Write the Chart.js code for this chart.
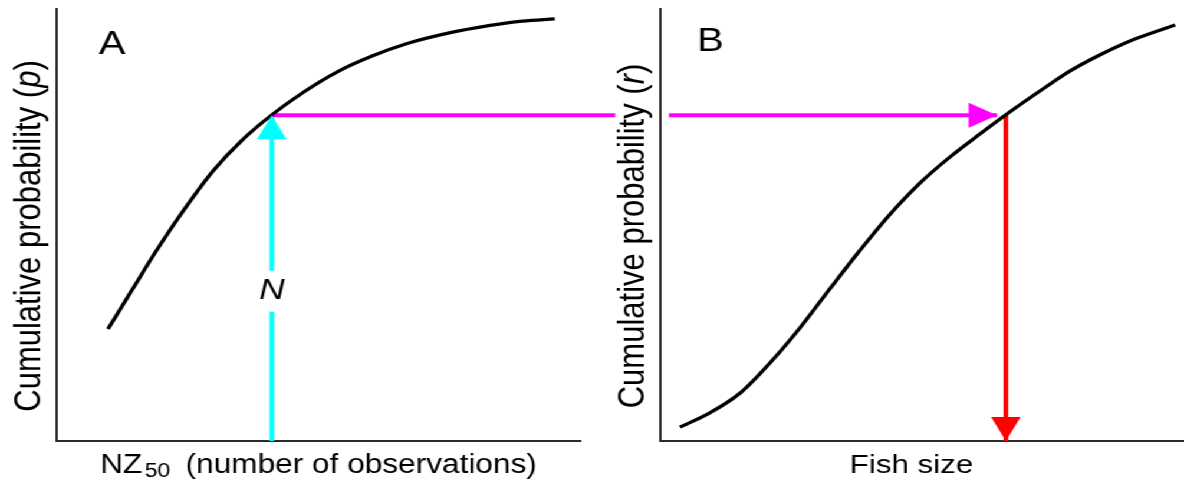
<!DOCTYPE html>
<html>
<head>
<meta charset="utf-8">
<script src="https://cdn.jsdelivr.net/npm/chart.js@4.4.1/dist/chart.umd.min.js"></script>
<style>
  html, body { margin: 0; padding: 0; background: #fff; overflow: hidden; }
  /* the source figure is stretched sideways, so the whole drawing is too */
  #figure { position: absolute; left: 0; top: 0; width: 1004px; height: 490px; transform: scaleX(1.1793); transform-origin: 0 0; }
  #panel-a { position: absolute; left: 0; top: 0; }
  #panel-b { position: absolute; left: 505px; top: 0; }
</style>
</head>
<body>
<div id="figure">
  <canvas id="panel-a" width="525" height="490"></canvas>
  <canvas id="panel-b" width="499" height="490"></canvas>
</div>
<script>
// Panel A - cumulative probability p against NZ50 (axis units 0-100 / 0-1)
const nzValues = [9.9, 14.5, 19.2, 24.6, 29.9, 35.4, 41.1, 47.2, 53.5, 60.2, 66.9, 74.7, 82.7, 88.8, 95.0];
const pValues = [0.259, 0.350, 0.442, 0.539, 0.625, 0.696, 0.755, 0.808, 0.854, 0.891, 0.920, 0.944, 0.962, 0.972, 0.977];

// Panel B - cumulative probability r against fish size
const sizeValues = [3.8, 9.5, 15.3, 21.0, 26.7, 32.4, 38.2, 43.9, 49.6, 55.3, 61.1, 66.8, 72.5, 78.2, 84.0, 89.7, 95.4, 98.3];
const rValues = [0.032, 0.065, 0.111, 0.181, 0.262, 0.352, 0.442, 0.525, 0.597, 0.657, 0.711, 0.762, 0.810, 0.856, 0.894, 0.926, 0.951, 0.963];

// Reading path N -> p -> r -> fish size
const nObs = 41.1;
const pAtN = 0.754;
const sizeAtP = 66.0;
const magentaEndA = 106.5;   // runs on past the end of axis A
const magentaStartB = 1.7;
const magentaTipB = 64.3;

const FONT = "'Liberation Sans', Arial, sans-serif";

function toPoints(xs, ys) {
    return xs.map((x, i) => ({ x: x, y: ys[i] }));
}

function fontOf(part) {
    return (part.italic ? 'italic ' : '') + part.size + 'px ' + FONT;
}

// draws a run of differently styled pieces, centred on (x, y) along its baseline
function drawRich(ctx, parts, x, y, rotation) {
    ctx.save();
    ctx.translate(x, y);
    ctx.rotate(rotation);
    ctx.fillStyle = '#000';
    ctx.textAlign = 'left';
    ctx.textBaseline = 'alphabetic';
    let total = 0;
    const widths = parts.map(p => {
        ctx.font = fontOf(p);
        const w = ctx.measureText(p.text).width;
        total += w + (p.gap || 0);
        return w;
    });
    let cx = -total / 2;
    parts.forEach((p, i) => {
        cx += p.gap || 0;
        ctx.font = fontOf(p);
        ctx.fillText(p.text, cx, p.dy || 0);
        cx += widths[i];
    });
    ctx.restore();
}

const figureDecor = {
    id: 'figureDecor',
    afterDatasetsDraw(chart) {
        const ctx = chart.ctx;
        chart.data.datasets.forEach((ds, i) => {
            if (!ds.arrowHead) return;
            const pts = chart.getDatasetMeta(i).data;
            const tip = pts[pts.length - 1];
            const prev = pts[pts.length - 2];
            const len = Math.hypot(tip.x - prev.x, tip.y - prev.y);
            const ux = (tip.x - prev.x) / len, uy = (tip.y - prev.y) / len;
            const bx = tip.x - ux * 24, by = tip.y - uy * 24;
            ctx.save();
            ctx.fillStyle = ds.borderColor;
            ctx.beginPath();
            ctx.moveTo(tip.x, tip.y);
            ctx.lineTo(bx - uy * 12.5, by + ux * 12.5);
            ctx.lineTo(bx + uy * 12.5, by - ux * 12.5);
            ctx.closePath();
            ctx.fill();
            ctx.restore();
        });
    },
    afterDraw(chart, args, opts) {
        const { ctx, chartArea: a, scales: { x, y } } = chart;
        (opts.tags || []).forEach(t => {
            const px = x.getPixelForValue(t.x);
            const py = y.getPixelForValue(t.y);
            ctx.save();
            if (t.box) {
                ctx.fillStyle = '#fff';
                ctx.fillRect(px - t.box.w / 2, py - t.box.h / 2, t.box.w, t.box.h);
            }
            ctx.fillStyle = '#000';
            ctx.font = fontOf(t);
            ctx.textAlign = 'center';
            ctx.textBaseline = 'middle';
            ctx.fillText(t.text, px, py);
            ctx.restore();
        });
        drawRich(ctx, opts.xTitle, (a.left + a.right) / 2 + (opts.xShift || 0), a.bottom + 32, 0);
        drawRich(ctx, opts.yTitle, a.left - 14, (a.top + a.bottom) / 2 + 11, -Math.PI / 2);
    }
};

function axisOptions(min, max) {
    return {
        type: 'linear',
        min: min,
        max: max,
        ticks: { display: false },
        grid: { display: false, drawTicks: false },
        border: { display: true, color: '#2a2a2a', width: 2 }
    };
}

function baseOptions(padding, decor) {
    return {
        responsive: false,
        animation: false,
        devicePixelRatio: 1,
        layout: { padding: padding },
        elements: { point: { radius: 0, hoverRadius: 0 } },
        plugins: {
            legend: { display: false },
            tooltip: { enabled: false },
            figureDecor: decor
        },
        scales: { x: axisOptions(0, 100), y: axisOptions(0, 1) }
    };
}

const curveStyle = {
    borderColor: '#000',
    borderWidth: 3.3,
    cubicInterpolationMode: 'monotone',
    pointRadius: 0
};

new Chart(document.getElementById('panel-a').getContext('2d'), {
    type: 'line',
    data: {
        datasets: [
            Object.assign({ data: toPoints(nzValues, pValues) }, curveStyle),
            {
                data: [{ x: nObs, y: pAtN }, { x: magentaEndA, y: pAtN }],
                borderColor: '#ff00ff',
                borderWidth: 4,
                clip: false
            },
            {
                data: [{ x: nObs, y: 0 }, { x: nObs, y: pAtN }],
                borderColor: '#00ffff',
                borderWidth: 4,
                arrowHead: true
            }
        ]
    },
    options: baseOptions({ left: 47.5, right: 32.3, top: 9, bottom: 49 }, {
        tags: [
            { text: 'A', x: 10.7, y: 0.918, size: 34 },
            { text: 'N', x: nObs, y: 0.347, size: 30, italic: true, box: { w: 26, h: 41 } }
        ],
        xTitle: [
            { text: 'NZ', size: 26.8 },
            { text: '50', size: 19.5, dy: 4, gap: 2 },
            { text: '(number of observations)', size: 26.8, gap: 13 }
        ],
        yTitle: [
            { text: 'Cumulative probability (', size: 31 },
            { text: 'p', size: 31, italic: true },
            { text: ')', size: 31 }
        ]
    }),
    plugins: [figureDecor]
});

new Chart(document.getElementById('panel-b').getContext('2d'), {
    type: 'line',
    data: {
        datasets: [
            Object.assign({ data: toPoints(sizeValues, rValues) }, curveStyle),
            {
                data: [{ x: magentaStartB, y: pAtN }, { x: magentaTipB, y: pAtN }],
                borderColor: '#ff00ff',
                borderWidth: 4,
                arrowHead: true
            },
            {
                data: [{ x: sizeAtP, y: pAtN }, { x: sizeAtP, y: 0 }],
                borderColor: '#ff0000',
                borderWidth: 4,
                arrowHead: true
            }
        ]
    },
    options: baseOptions({ left: 54.7, right: 0, top: 9, bottom: 49 }, {
        tags: [
            { text: 'B', x: 9.6, y: 0.924, size: 34 }
        ],
        xShift: -9,
        xTitle: [{ text: 'Fish size', size: 26.5 }],
        yTitle: [
            { text: 'Cumulative probability (', size: 31 },
            { text: 'r', size: 31, italic: true },
            { text: ')', size: 31 }
        ]
    }),
    plugins: [figureDecor]
});
</script>
</body>
</html>
